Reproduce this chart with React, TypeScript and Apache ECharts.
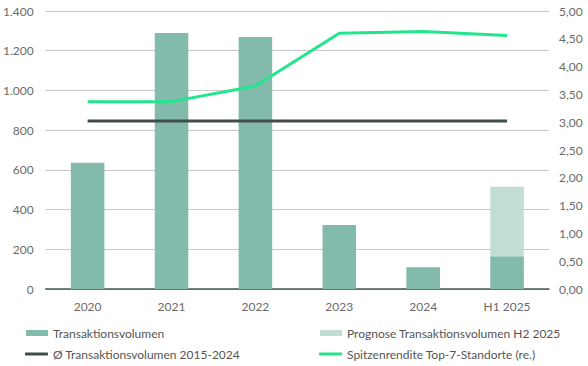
import React, { useEffect, useRef } from "react";
import * as echarts from "echarts";

const categories = ["2020", "2021", "2022", "2023", "2024", "H1 2025"];
const volume = [636, 1289, 1269, 322, 109, 165];
const forecastH2 = [null, null, null, null, null, 350];
const avgVolume = [846, 846, 846, 846, 846, 846];
const primeYield = [3.37, 3.37, 3.65, 4.6, 4.63, 4.56];

const leftTicks = { min: 0, max: 1400, interval: 200 };
const rightTicks = { min: 0, max: 5, interval: 0.5 };

const FONT = "Lato";
const TEXT = "#6a6a6a";

export default function App() {
  const ref = useRef<HTMLDivElement>(null);
  useEffect(() => {
    const chart = echarts.init(ref.current!, null, { renderer: "svg" });
    const legendText = { color: "#555", fontSize: 12, fontFamily: FONT };
    chart.setOption({
      animation: false,
      grid: { left: 43, right: 39, top: 11, bottom: 77 },
      legend: [
        { left: 26, top: 327, data: ["Transaktionsvolumen"], icon: "rect", itemWidth: 22, itemHeight: 6, textStyle: legendText, padding: 0 },
        { left: 320, top: 327, data: ["Prognose Transaktionsvolumen H2 2025"], icon: "rect", itemWidth: 22, itemHeight: 6, textStyle: legendText, padding: 0 },
        { left: 25, top: 348, data: ["Ø Transaktionsvolumen 2015-2024"], icon: "roundRect", itemWidth: 23, itemHeight: 3, textStyle: legendText, padding: 0 },
        { left: 319, top: 348, data: ["Spitzenrendite Top-7-Standorte (re.)"], icon: "roundRect", itemWidth: 23, itemHeight: 3, textStyle: legendText, padding: 0 },
      ],
      xAxis: {
        type: "category",
        data: categories,
        axisTick: { show: false },
        axisLine: { lineStyle: { color: "#4a5555", width: 1.5 } },
        axisLabel: { color: TEXT, fontSize: 12, fontFamily: FONT, margin: 11 },
      },
      yAxis: [
        {
          type: "value",
          ...leftTicks,
          axisLabel: {
            color: TEXT,
            fontSize: 12,
            fontFamily: FONT,
            margin: 12,
            formatter: (v: number) => v.toLocaleString("de-DE"),
          },
          splitLine: { lineStyle: { color: "#c8c8c8", width: 1 } },
          axisLine: { show: false },
          axisTick: { show: false },
        },
        {
          type: "value",
          ...rightTicks,
          position: "right",
          axisLabel: {
            color: TEXT,
            fontSize: 12,
            fontFamily: FONT,
            margin: 10,
            formatter: (v: number) => v.toFixed(2).replace(".", ","),
          },
          splitLine: { show: false },
          axisLine: { show: false },
          axisTick: { show: false },
        },
      ],
      series: [
        {
          name: "Transaktionsvolumen",
          type: "bar",
          stack: "vol",
          data: volume,
          barWidth: "40%",
          itemStyle: { color: "#82baab" },
        },
        {
          name: "Prognose Transaktionsvolumen H2 2025",
          type: "bar",
          stack: "vol",
          data: forecastH2,
          barWidth: "40%",
          itemStyle: { color: "#c1ddd6" },
        },
        {
          name: "Ø Transaktionsvolumen 2015-2024",
          type: "line",
          data: avgVolume,
          symbol: "none",
          lineStyle: { color: "#414c4c", width: 3 },
          itemStyle: { color: "#414c4c" },
        },
        {
          name: "Spitzenrendite Top-7-Standorte (re.)",
          type: "line",
          yAxisIndex: 1,
          data: primeYield,
          symbol: "none",
          lineStyle: { color: "#22e68c", width: 3 },
          itemStyle: { color: "#22e68c" },
        },
      ],
    });
    return () => chart.dispose();
  }, []);
  return <div ref={ref} style={{ width: 588, height: 366, position: "absolute", left: 0, top: 0 }} />;
}
